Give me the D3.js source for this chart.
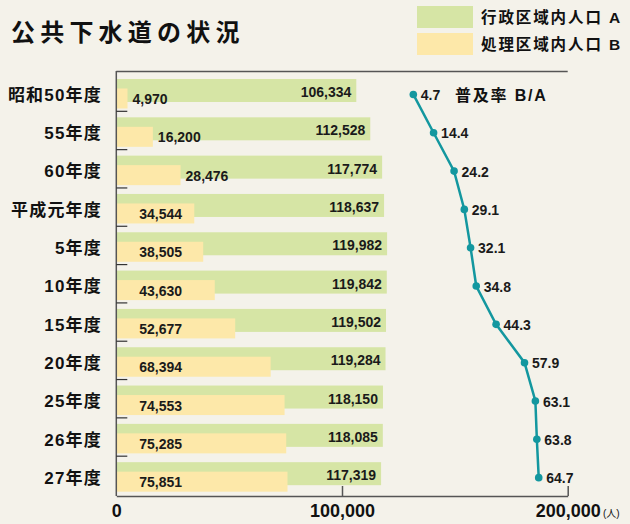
<!DOCTYPE html>
<html>
<head>
<meta charset="utf-8">
<script src="https://cdn.jsdelivr.net/npm/d3@7"></script>
<style>
  html, body { margin: 0; padding: 0; background: #f4f2ea; }
  svg { display: block; font-family: "Liberation Sans", "Noto Sans CJK JP", sans-serif; }
</style>
</head>
<body>
<div class="svg-div"></div>
<script>
// data
var years = ["昭和50年度", "55年度", "60年度", "平成元年度", "5年度", "10年度", "15年度", "20年度", "25年度", "26年度", "27年度"];
var popA = [106334, 112528, 117774, 118637, 119982, 119842, 119502, 119284, 118150, 118085, 117319];
var popB = [4970, 16200, 28476, 34544, 38505, 43630, 52677, 68394, 74553, 75285, 75851];
var rate = [4.7, 14.4, 24.2, 29.1, 32.1, 34.8, 44.3, 57.9, 63.1, 63.8, 64.7];
var xTicks = [0, 100000, 200000];

var w = 630;
var h = 524;
var green = "#d6e5a5";
var yellow = "#fde8a9";
var teal = "#13979f";
var axisCol = "#555";

var svg = d3.select(".svg-div")
  .append("svg")
  .attr("width", w)
  .attr("height", h);

svg.append("rect").attr("width", w).attr("height", h).attr("fill", "#f4f2ea");

// scales
var x = d3.scaleLinear().domain([0, 200000]).range([116.3, 567.7]);
var y = d3.scaleBand().domain(years).range([74.5, 496]);
var r = d3.scaleLinear().domain([0, 100]).range([403.5, 612.5]);
var bw = y.bandwidth();

// title
svg.append("text")
  .attr("x", 11).attr("y", 41)
  .attr("font-size", 24).attr("font-weight", "bold")
  .attr("letter-spacing", 5.2)
  .attr("fill", "#111")
  .text("公共下水道の状況");

// legend
var legend = [["行政区域内人口 A", green], ["処理区域内人口 B", yellow]];
legend.forEach(function(d, i) {
  svg.append("rect")
    .attr("x", 417).attr("y", 6 + i * 27)
    .attr("width", 56).attr("height", 22)
    .attr("fill", d[1]);
  svg.append("text")
    .attr("x", 481).attr("y", 23 + i * 27)
    .attr("font-size", 15.5).attr("font-weight", "bold")
    .attr("letter-spacing", 1.9)
    .attr("fill", "#111")
    .text(d[0]);
});

// bars A
svg.selectAll("rect.a")
  .data(popA)
  .enter()
  .append("rect")
  .attr("class", "a")
  .attr("x", x(0))
  .attr("y", function(d, i) { return y(years[i]) + 4.5; })
  .attr("width", function(d) { return x(d) - x(0); })
  .attr("height", 23)
  .attr("fill", green);

// bars B
svg.selectAll("rect.b")
  .data(popB)
  .enter()
  .append("rect")
  .attr("class", "b")
  .attr("x", x(0))
  .attr("y", function(d, i) { return y(years[i]) + 14; })
  .attr("width", function(d) { return x(d) - x(0); })
  .attr("height", 20)
  .attr("fill", yellow);

// labels A
svg.selectAll("text.a")
  .data(popA)
  .enter()
  .append("text")
  .attr("class", "a")
  .attr("x", function(d) { return x(d) - 5; })
  .attr("y", function(d, i) { return y(years[i]) + 22.5; })
  .attr("text-anchor", "end")
  .attr("font-size", 14).attr("font-weight", "bold")
  .attr("fill", "#1a1a1a")
  .text(d3.format(","));

// labels B
svg.selectAll("text.b")
  .data(popB)
  .enter()
  .append("text")
  .attr("class", "b")
  .attr("x", function(d) {
    var bar = x(d) - x(0);
    return bar > 70 ? x(0) + 23 : x(d) + 5;
  })
  .attr("y", function(d, i) { return y(years[i]) + 29.5; })
  .attr("font-size", 14).attr("font-weight", "bold")
  .attr("fill", "#1a1a1a")
  .text(d3.format(","));

// frame and axes
svg.append("line")
  .attr("x1", x(0)).attr("x2", x(200000))
  .attr("y1", 71.5).attr("y2", 71.5)
  .attr("stroke", axisCol).attr("stroke-width", 1.5);
svg.append("line")
  .attr("x1", x(0)).attr("x2", x(0))
  .attr("y1", 71).attr("y2", 496)
  .attr("stroke", axisCol).attr("stroke-width", 1.5);

// category ticks between bands
svg.selectAll("line.yt")
  .data(years.slice(1))
  .enter()
  .append("line")
  .attr("class", "yt")
  .attr("x1", x(0)).attr("x2", x(0) + 11)
  .attr("y1", function(d) { return y(d) - 1.5; })
  .attr("y2", function(d) { return y(d) - 1.5; })
  .attr("stroke", "#333").attr("stroke-width", 1.2);

// category labels
svg.selectAll("text.cat")
  .data(years)
  .enter()
  .append("text")
  .attr("class", "cat")
  .attr("x", 102)
  .attr("y", function(d) { return y(d) + bw / 2 + 7; })
  .attr("text-anchor", "end")
  .attr("font-size", 17).attr("font-weight", "bold")
  .attr("letter-spacing", 1.2)
  .attr("fill", "#111")
  .text(function(d) { return d; });

// x axis
var xAxis = d3.axisBottom(x)
  .tickValues(xTicks)
  .tickSize(10)
  .tickSizeOuter(0)
  .tickFormat(d3.format(","));
var gx = svg.append("g")
  .attr("transform", "translate(0,496)")
  .call(xAxis);
gx.select(".domain").attr("stroke", axisCol).attr("stroke-width", 1.5);
gx.selectAll(".tick line")
  .attr("y1", -10).attr("y2", 0)
  .attr("stroke", axisCol).attr("stroke-width", 1.5);
gx.selectAll(".tick").filter(function(d) { return d === 0; }).select("line").remove();
gx.selectAll(".tick text")
  .attr("y", 8).attr("dy", "0.71em")
  .attr("font-size", 18).attr("font-weight", "bold")
  .attr("font-family", "Liberation Sans, sans-serif")
  .attr("fill", "#111");

svg.append("text")
  .attr("x", 603).attr("y", 517)
  .attr("font-size", 10)
  .attr("fill", "#111")
  .text("(人)");

// rate line
var ry = function(i) { return y(years[i]) + bw / 2 + 0.8; };
var line = d3.line()
  .x(function(d) { return r(d); })
  .y(function(d, i) { return ry(i); });

svg.append("path")
  .datum(rate)
  .attr("d", line)
  .attr("fill", "none")
  .attr("stroke", teal)
  .attr("stroke-width", 2.5);

svg.selectAll("circle.rate")
  .data(rate)
  .enter()
  .append("circle")
  .attr("class", "rate")
  .attr("cx", function(d) { return r(d); })
  .attr("cy", function(d, i) { return ry(i); })
  .attr("r", 3.8)
  .attr("fill", teal);

svg.selectAll("text.rate")
  .data(rate)
  .enter()
  .append("text")
  .attr("class", "rate")
  .attr("x", function(d) { return r(d) + 7.5; })
  .attr("y", function(d, i) { return ry(i) + 5.5; })
  .attr("font-size", 14).attr("font-weight", "bold")
  .attr("fill", "#1a1a1a")
  .text(function(d) { return d.toFixed(1); });

svg.append("text")
  .attr("x", 455).attr("y", 101)
  .attr("font-size", 16).attr("font-weight", "bold")
  .attr("letter-spacing", 1.8)
  .attr("fill", "#111")
  .text("普及率 B/A");
</script>
</body>
</html>
